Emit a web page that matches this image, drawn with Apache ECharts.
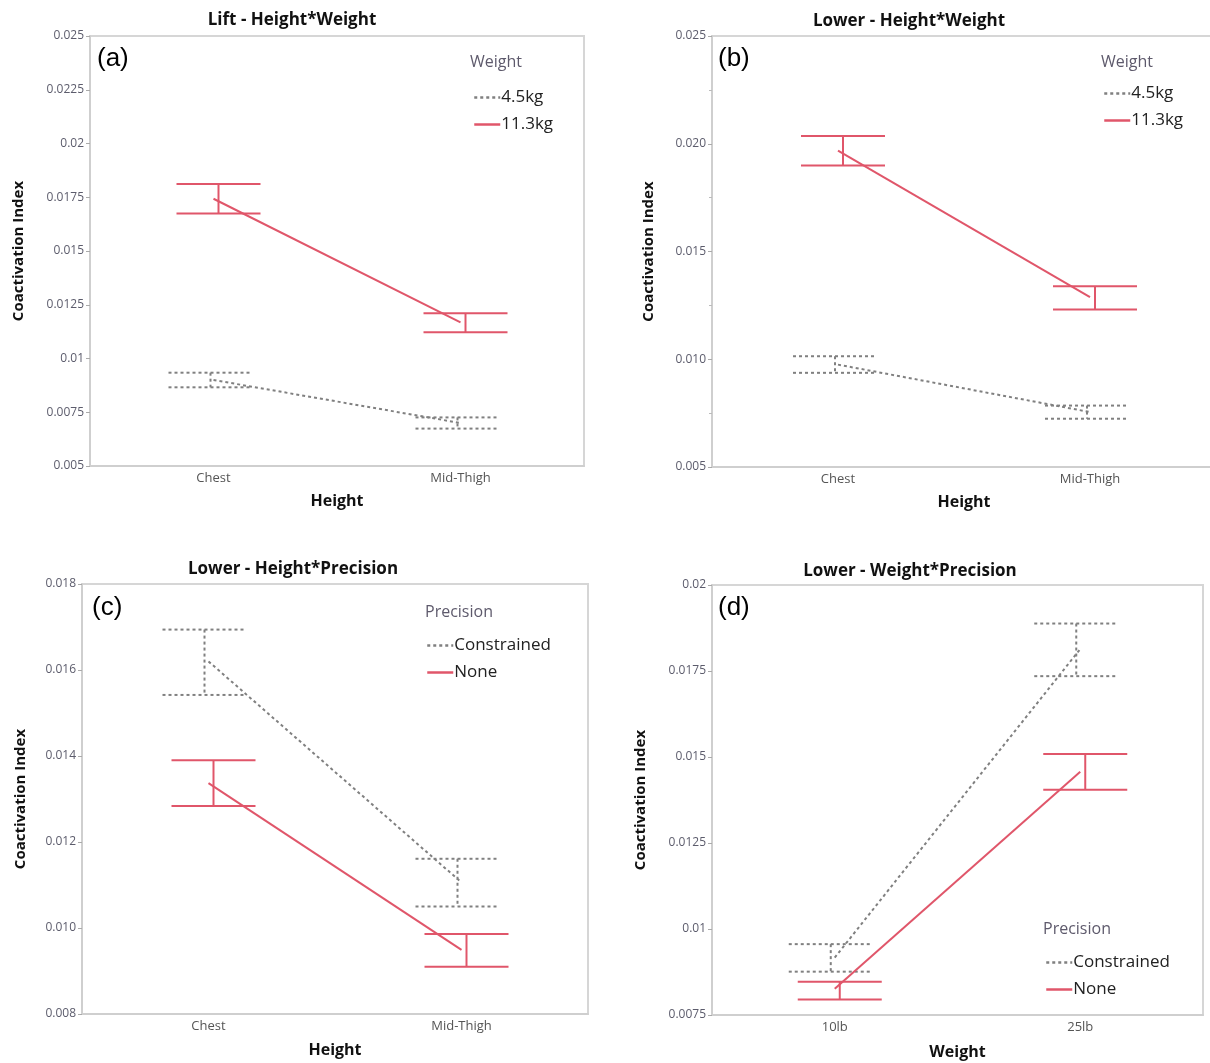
<!DOCTYPE html>
<html>
<head>
<meta charset="utf-8">
<script src="https://cdn.jsdelivr.net/npm/echarts@6/dist/echarts.min.js"></script>
<style>html,body{margin:0;padding:0;background:#fff;overflow:hidden}#c{width:1222px;height:1063px}</style>
</head>
<body>
<div id="c"></div>
<script>
// categories
const heightCats = ['Chest', 'Mid-Thigh'];
const weightCats = ['10lb', '25lb'];

// (a) Lift - Height*Weight
const aLightMean = [0.0090, 0.0070];
const aLightLo = [0.00866, 0.00674];
const aLightHi = [0.00934, 0.00726];
const aHeavyMean = [0.01743, 0.01168];
const aHeavyLo = [0.01675, 0.01122];
const aHeavyHi = [0.01812, 0.0121];

// (b) Lower - Height*Weight
const bLightMean = [0.00975, 0.00755];
const bLightLo = [0.00937, 0.00724];
const bLightHi = [0.01014, 0.00785];
const bHeavyMean = [0.01968, 0.01288];
const bHeavyLo = [0.01899, 0.01231];
const bHeavyHi = [0.02036, 0.01339];

// (c) Lower - Height*Precision
const cConMean = [0.0162, 0.01106];
const cConLo = [0.01542, 0.0105];
const cConHi = [0.01694, 0.01161];
const cNoneMean = [0.01337, 0.00949];
const cNoneLo = [0.01284, 0.0091];
const cNoneHi = [0.0139, 0.00986];

// (d) Lower - Weight*Precision
const dConMean = [0.00917, 0.01814];
const dConLo = [0.00876, 0.01735];
const dConHi = [0.00956, 0.01888];
const dNoneMean = [0.00826, 0.01457];
const dNoneLo = [0.00795, 0.01405];
const dNoneHi = [0.00847, 0.01509];

const RED = '#e0566a';
const GRAY = '#808080';
const FONT = 'Open Sans';

const grids = [
  {left: 90, top: 36, width: 494, height: 430},
  {left: 712, top: 36, width: 504, height: 431},
  {left: 82, top: 584, width: 506, height: 430},
  {left: 712, top: 585, width: 491, height: 430}
].map(g => Object.assign(g, {show: true, borderColor: '#d6d6d6', borderWidth: 2, backgroundColor: '#fff'}));

function fmt(d) { return v => String(parseFloat(v.toFixed(d))); }
function fmtFixed(d) { return v => v.toFixed(d); }

const yCfg = [
  {min: 0.005, max: 0.025, interval: 0.0025, f: fmt(4), gap: 64, minor: false},
  {min: 0.005, max: 0.025, interval: 0.005, f: fmtFixed(3), gap: 56, minor: true},
  {min: 0.008, max: 0.018, interval: 0.002, f: fmtFixed(3), gap: 54, minor: false},
  {min: 0.0075, max: 0.02, interval: 0.0025, f: fmt(4), gap: 64, minor: false}
];

const yAxes = yCfg.map((c, i) => ({
  type: 'value', gridIndex: i, min: c.min, max: c.max, interval: c.interval,
  axisLine: {show: true, lineStyle: {color: '#cfcfcf', width: 2}},
  axisTick: {show: true, length: 4, lineStyle: {color: '#aaa'}},
  minorTick: {show: c.minor, splitNumber: 2, length: 3, lineStyle: {color: '#bbb'}},
  splitLine: {show: false},
  axisLabel: {fontSize: 12, color: '#5c5c6c', fontFamily: FONT, margin: 6, formatter: c.f},
  name: 'Coactivation Index', nameLocation: 'middle', nameGap: c.gap,
  nameTextStyle: {fontWeight: 'bold', fontSize: 15, color: '#111', fontFamily: FONT}
}));

const xNames = ['Height', 'Height', 'Height', 'Weight'];
const xData = [heightCats, heightCats, heightCats, weightCats];
const xGaps = [27, 27, 28, 29];
const xAxes = xData.map((d, i) => ({
  type: 'category', gridIndex: i, data: d, boundaryGap: true,
  axisLine: {show: true, lineStyle: {color: '#cfcfcf', width: 2}},
  axisTick: {show: false},
  axisLabel: {fontSize: 13, color: '#555', fontFamily: FONT, margin: 6},
  name: xNames[i], nameLocation: 'middle', nameGap: xGaps[i],
  nameTextStyle: {fontWeight: 'bold', fontSize: 16, color: '#111', fontFamily: FONT}
}));

function meanSeries(name, idx, data, color, dashed) {
  return {
    type: 'line', name: name, xAxisIndex: idx, yAxisIndex: idx, data: data,
    symbol: 'none', silent: true, z: dashed ? 2 : 4,
    lineStyle: {color: color, width: 2, type: dashed ? [3, 3] : 'solid'},
    itemStyle: {color: color}
  };
}

function errSeries(idx, lo, hi, color, dashed, offset) {
  return {
    type: 'custom', name: 'err' + idx + color, xAxisIndex: idx, yAxisIndex: idx, silent: true,
    z: dashed ? 2 : 4,
    data: lo.map((l, i) => [i, l, hi[i]]),
    encode: {x: 0, y: [1, 2]},
    renderItem: function (params, api) {
      const x = api.value(0);
      const pLo = api.coord([x, api.value(1)]);
      const pHi = api.coord([x, api.value(2)]);
      const cx = pLo[0] + offset;
      const hw = 42;
      const style = {stroke: color, lineWidth: 2, lineDash: dashed ? [3, 3] : null, fill: null};
      return {
        type: 'group',
        children: [
          {type: 'line', shape: {x1: cx, y1: pHi[1], x2: cx, y2: pLo[1]}, style: style},
          {type: 'line', shape: {x1: cx - hw, y1: pHi[1], x2: cx + hw, y2: pHi[1]}, style: style},
          {type: 'line', shape: {x1: cx - hw, y1: pLo[1], x2: cx + hw, y2: pLo[1]}, style: style}
        ]
      };
    }
  };
}

const series = [
  meanSeries('4.5kg', 0, aLightMean, GRAY, true),
  errSeries(0, aLightLo, aLightHi, GRAY, true, -3),
  meanSeries('11.3kg', 0, aHeavyMean, RED, false),
  errSeries(0, aHeavyLo, aHeavyHi, RED, false, 5),

  meanSeries('4.5kg', 1, bLightMean, GRAY, true),
  errSeries(1, bLightLo, bLightHi, GRAY, true, -3),
  meanSeries('11.3kg', 1, bHeavyMean, RED, false),
  errSeries(1, bHeavyLo, bHeavyHi, RED, false, 5),

  meanSeries('Constrained', 2, cConMean, GRAY, true),
  errSeries(2, cConLo, cConHi, GRAY, true, -4),
  meanSeries('None', 2, cNoneMean, RED, false),
  errSeries(2, cNoneLo, cNoneHi, RED, false, 5),

  meanSeries('Constrained', 3, dConMean, GRAY, true),
  errSeries(3, dConLo, dConHi, GRAY, true, -4),
  meanSeries('None', 3, dNoneMean, RED, false),
  errSeries(3, dNoneLo, dNoneHi, RED, false, 5)
];

function legendAt(names, left, top) {
  return {
    data: names, left: left, top: top, orient: 'vertical', padding: 0,
    itemWidth: 26, itemHeight: 12, itemGap: 10, selectedMode: false,
    itemStyle: {opacity: 0},
    lineStyle: {width: 2.5},
    textStyle: {fontSize: 17, color: '#222', fontFamily: FONT, padding: [0, 0, 0, -4]}
  };
}

const legends = [
  legendAt(['4.5kg', '11.3kg'], 473, 89),
  legendAt(['4.5kg', '11.3kg'], 1103, 85),
  legendAt(['Constrained', 'None'], 426, 637),
  legendAt(['Constrained', 'None'], 1045, 954)
];

function txt(x, y, s, opts) {
  return {type: 'text', x: x, y: y, style: Object.assign({text: s, fontFamily: FONT, fill: '#111', textVerticalAlign: 'middle'}, opts || {})};
}

const graphics = [
  txt(292, 20, 'Lift - Height*Weight', {fontSize: 17, fontWeight: 'bold', textAlign: 'center'}),
  txt(909, 21, 'Lower - Height*Weight', {fontSize: 17, fontWeight: 'bold', textAlign: 'center'}),
  txt(293, 569, 'Lower - Height*Precision', {fontSize: 17, fontWeight: 'bold', textAlign: 'center'}),
  txt(910, 571, 'Lower - Weight*Precision', {fontSize: 17, fontWeight: 'bold', textAlign: 'center'}),
  txt(97, 59, '(a)', {fontSize: 26, fontFamily: 'Liberation Sans', fill: '#000'}),
  txt(718, 59, '(b)', {fontSize: 26, fontFamily: 'Liberation Sans', fill: '#000'}),
  txt(92, 608, '(c)', {fontSize: 26, fontFamily: 'Liberation Sans', fill: '#000'}),
  txt(718, 608, '(d)', {fontSize: 26, fontFamily: 'Liberation Sans', fill: '#000'}),
  txt(470, 62, 'Weight', {fontSize: 16, fill: '#5e5a6c'}),
  txt(1101, 62, 'Weight', {fontSize: 16, fill: '#5e5a6c'}),
  txt(425, 612, 'Precision', {fontSize: 16, fill: '#5e5a6c'}),
  txt(1043, 929, 'Precision', {fontSize: 16, fill: '#5e5a6c'})
];

const chart = echarts.init(document.getElementById('c'), null, {renderer: 'canvas'});
chart.setOption({
  animation: false,
  backgroundColor: '#fff',
  grid: grids,
  xAxis: xAxes,
  yAxis: yAxes,
  legend: legends,
  series: series,
  graphic: graphics
});
</script>
</body>
</html>
